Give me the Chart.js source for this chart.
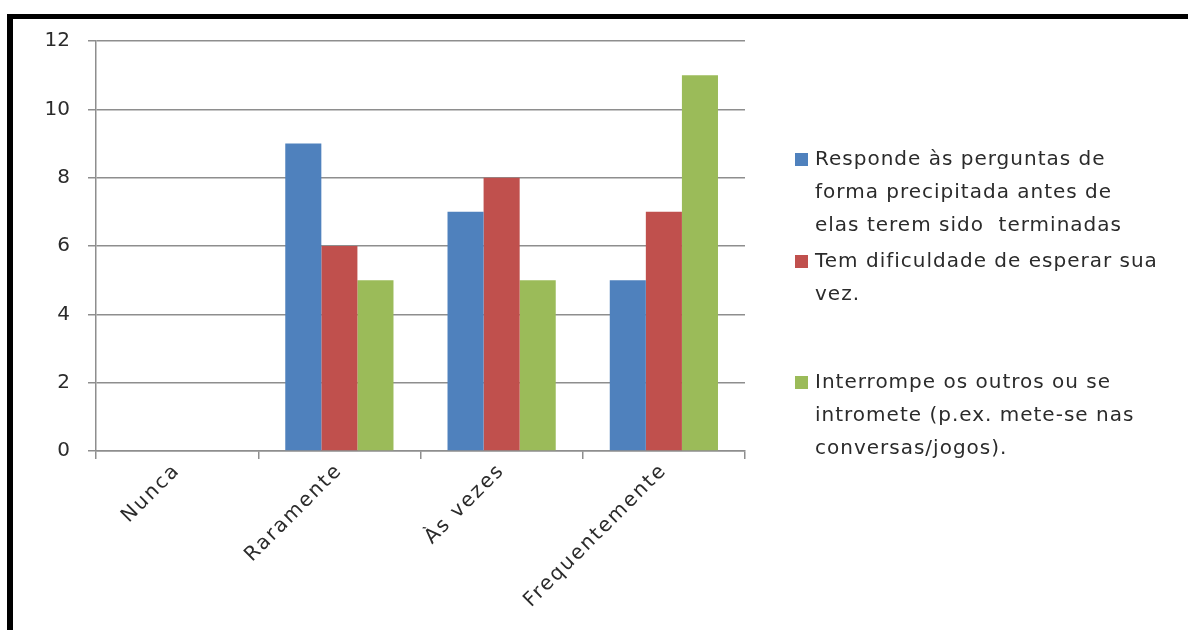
<!DOCTYPE html>
<html lang="pt">
<head>
<meta charset="utf-8">
<title>Gráfico</title>
<script src="https://cdn.jsdelivr.net/npm/chart.js@4.4.1/dist/chart.umd.min.js"></script>
<style>
  html, body { margin: 0; padding: 0; background: #fff; }
  #caixa { position: relative; width: 1188px; height: 630px; overflow: hidden; }
  #grafico { position: absolute; left: 0; top: 0; }
  /* moldura preta da figura original */
  #moldura {
    position: absolute; left: 7px; top: 14px; width: 1300px; height: 800px;
    border-left: 6px solid #000; border-top: 5px solid #000;
    pointer-events: none;
  }
</style>
</head>
<body>
<div id="caixa">
  <canvas id="grafico" width="1188" height="630"></canvas>
  <div id="moldura"></div>
</div>
<script>
// Dados
const categorias = ['Nunca', 'Raramente', 'Às vezes', 'Frequentemente'];
const respondePrecipitado = [0, 9, 7, 5];
const dificuldadeEsperar = [0, 6, 8, 7];
const interrompeOutros = [0, 5, 5, 11];
const ticksY = [0, 2, 4, 6, 8, 10, 12];

// Nomes das séries, já quebrados em linhas como na legenda original
const nomesSeries = [
    ['Responde às perguntas de', 'forma precipitada antes de', 'elas terem sido  terminadas'],
    ['Tem dificuldade de esperar sua', 'vez.'],
    ['Interrompe os outros ou se', 'intromete (p.ex. mete-se nas', 'conversas/jogos).']
];

const cores = ['#4F81BD', '#C0504D', '#9BBB59'];
const corGrade = '#8e8e8e';
const corTexto = '#2b2b2b';
const fonte = '"DejaVu Sans", sans-serif';

// Legenda lateral com texto em várias linhas
const inicioLegenda = [160, 262, 383];
const legendaLateral = {
    id: 'legendaLateral',
    afterDraw(chart) {
        const ctx = chart.ctx;
        ctx.save();
        ctx.font = '20px ' + fonte;
        ctx.letterSpacing = '1px';
        ctx.textBaseline = 'middle';
        chart.data.datasets.forEach((ds, i) => {
            const y0 = inicioLegenda[i];
            ctx.fillStyle = ds.backgroundColor;
            ctx.fillRect(795, y0 - 7, 13, 13);
            ctx.fillStyle = corTexto;
            nomesSeries[i].forEach((linha, j) => {
                ctx.fillText(linha, 815, y0 + j * 33);
            });
        });
        ctx.restore();
    }
};

// O texto do eixo X na imagem é esticado: mais espaço entre as letras só nele
const espacamentoX = {
    id: 'espacamentoX',
    afterLayout(chart) {
        const eixoX = chart.scales.x;
        if (eixoX._comEspaco) return;
        const desenhar = eixoX.drawLabels.bind(eixoX);
        eixoX.drawLabels = function (area) {
            const c = this.ctx;
            c.save();
            c.letterSpacing = '2px';
            desenhar(area);
            c.restore();
        };
        eixoX._comEspaco = true;
    }
};

const ctx = document.getElementById('grafico').getContext('2d');

new Chart(ctx, {
    type: 'bar',
    data: {
        labels: categorias,
        datasets: [
            { label: nomesSeries[0].join(' '), data: respondePrecipitado, backgroundColor: cores[0] },
            { label: nomesSeries[1].join(' '), data: dificuldadeEsperar, backgroundColor: cores[1] },
            { label: nomesSeries[2].join(' '), data: interrompeOutros, backgroundColor: cores[2] }
        ]
    },
    options: {
        responsive: false,
        animation: false,
        categoryPercentage: 0.667,
        barPercentage: 1.0,
        layout: {
            padding: { left: 0, top: 41, right: 443, bottom: 0 }
        },
        plugins: {
            legend: { display: false },
            tooltip: { enabled: false }
        },
        scales: {
            x: {
                grid: {
                    drawOnChartArea: false,
                    drawTicks: true,
                    tickLength: 8,
                    color: corGrade,
                    lineWidth: 1.5,
                    offset: true
                },
                border: { display: true, color: corGrade, width: 1.5 },
                ticks: {
                    color: corTexto,
                    font: { family: fonte, size: 20 },
                    minRotation: 45,
                    maxRotation: 45,
                    padding: 0
                },
                afterFit(scale) { scale.height = 179; }
            },
            y: {
                min: 0,
                max: 12,
                afterBuildTicks(scale) {
                    scale.ticks = ticksY.map(v => ({ value: v }));
                },
                grid: {
                    color: corGrade,
                    lineWidth: 1.5,
                    tickLength: 8
                },
                border: { display: true, color: corGrade, width: 1.5 },
                ticks: {
                    color: corTexto,
                    font: { family: fonte, size: 20 },
                    padding: 18
                },
                afterFit(scale) { scale.width = 96; }
            }
        }
    },
    plugins: [espacamentoX, legendaLateral]
});
</script>
</body>
</html>
